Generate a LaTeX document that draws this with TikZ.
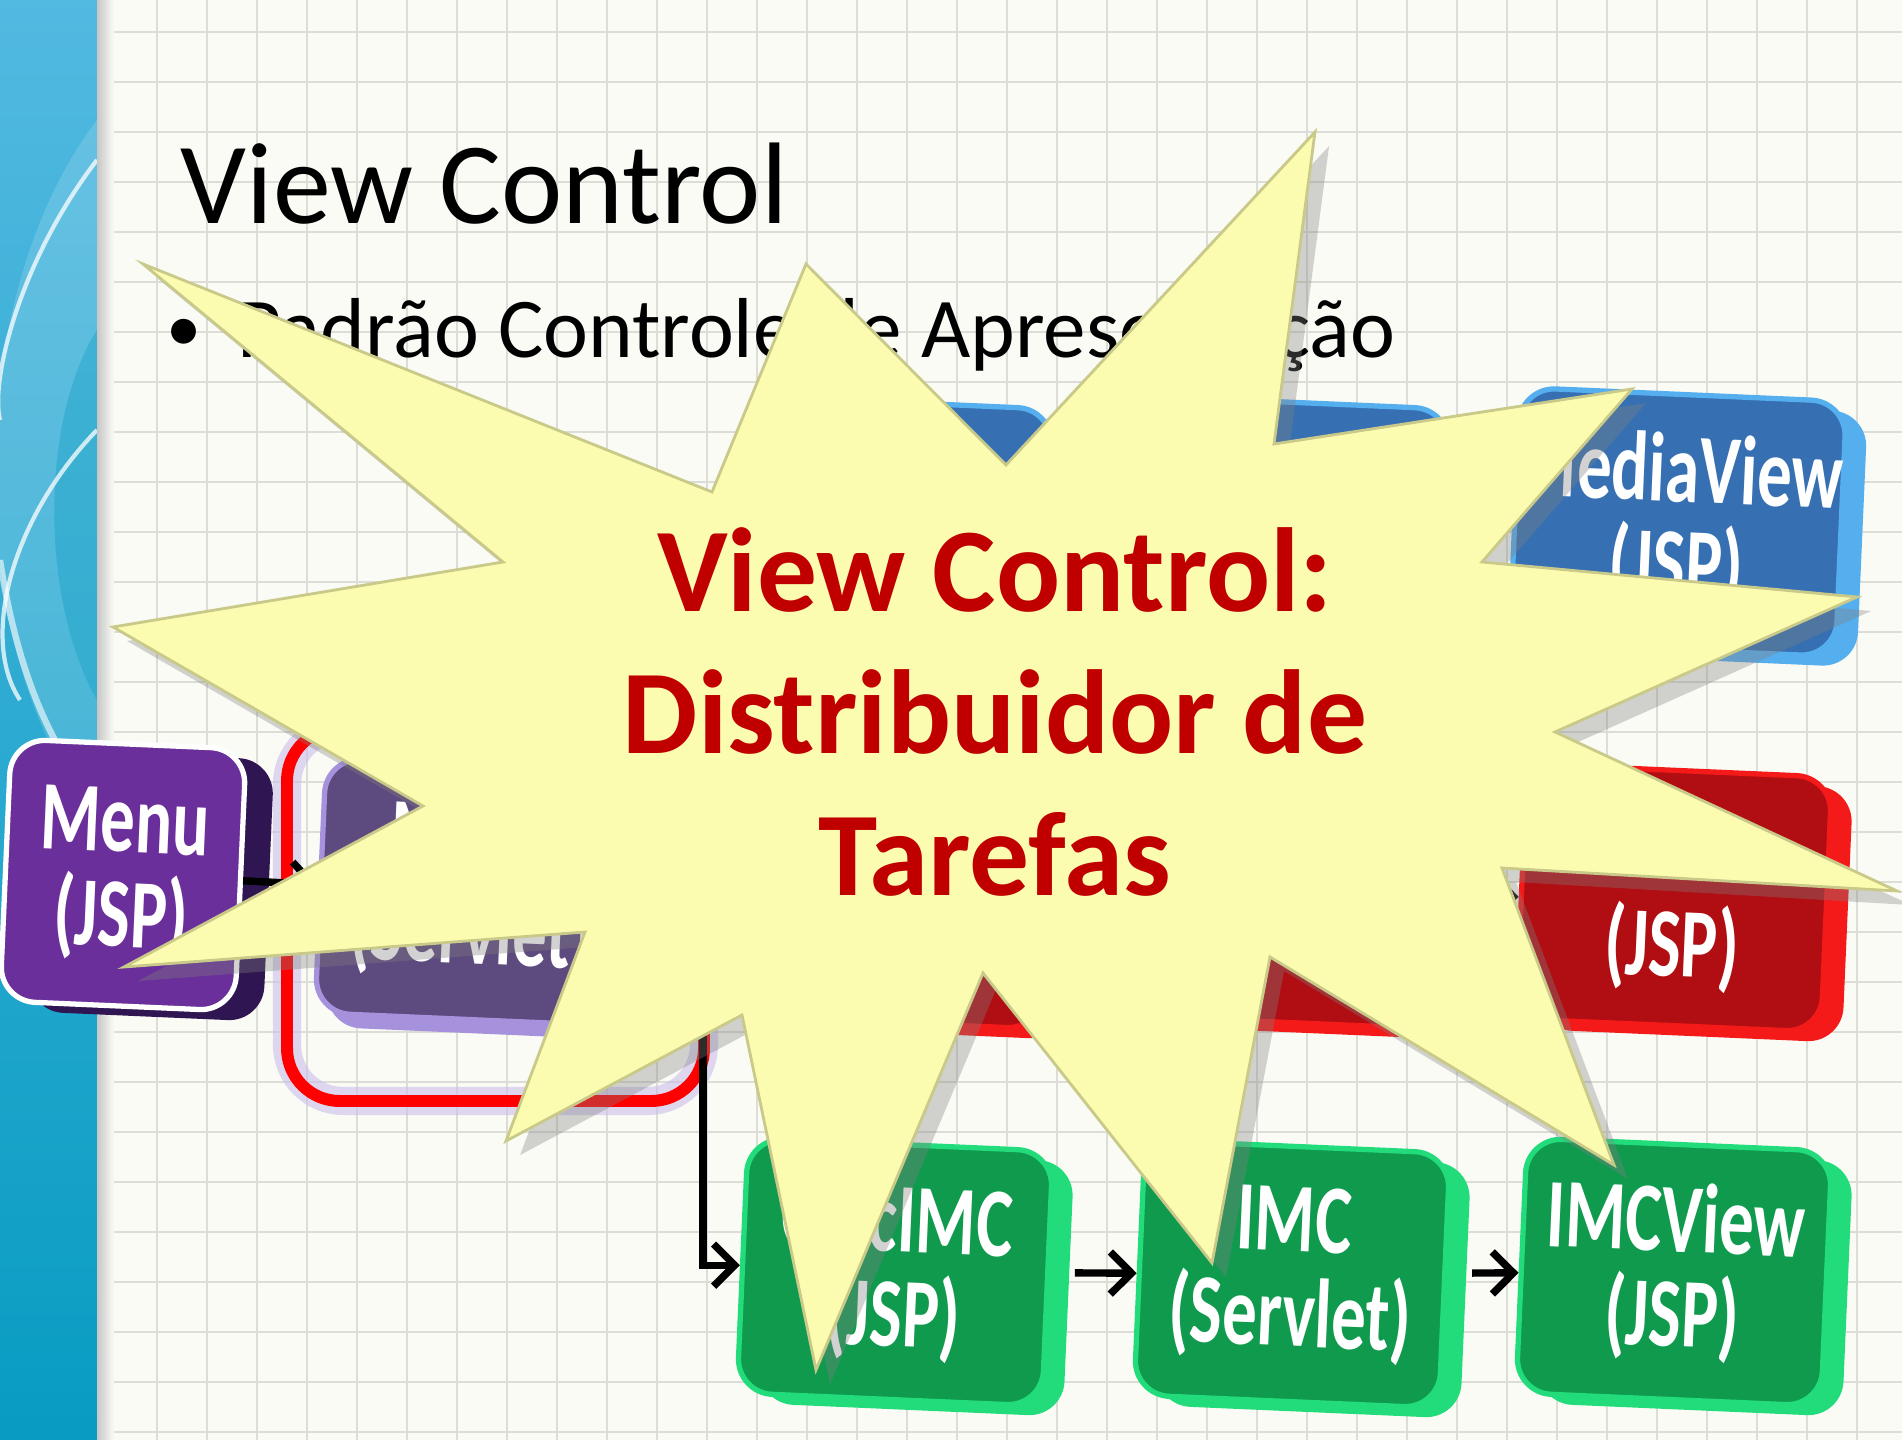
\documentclass[tikz,border=0pt]{standalone}
\usepackage{fontspec}
\setmainfont{Carlito}
\newfontfamily\boxfont[FakeStretch=0.7]{Carlito}
\usetikzlibrary{arrows.meta,shadows}
\definecolor{slidebg}{HTML}{FBFBF6}
\definecolor{gridgray}{HTML}{DDDDD8}
\definecolor{stripA}{HTML}{52B9E1}
\definecolor{stripB}{HTML}{089CC2}
\definecolor{burst}{HTML}{FCFCB0}
\definecolor{burstedge}{HTML}{C9C98A}
\definecolor{darkred}{HTML}{C00000}
\definecolor{bluefront}{HTML}{3670B3}
\definecolor{blueside}{HTML}{55AEEE}
\definecolor{redfront}{HTML}{B00E12}
\definecolor{redside}{HTML}{F41A1A}
\definecolor{greenfront}{HTML}{0F9A4E}
\definecolor{greenside}{HTML}{22DC7C}
\definecolor{menufront}{HTML}{6A2F9A}
\definecolor{menuside}{HTML}{2F1552}
\definecolor{servfront}{HTML}{5D4A7E}
\definecolor{servside}{HTML}{A692DC}
\tikzset{
  btn/.style={rounded corners=10pt, minimum width=3.05cm, minimum height=2.55cm,
    inner sep=0pt, line width=1.5pt, text=white, align=center, rotate=-2.5,
    font=\boxfont\bfseries\fontsize{28}{27}\selectfont},
  bluebtn/.style={btn, fill=bluefront, draw=blueside,
    general shadow={fill=blueside, shadow xshift=6pt, shadow yshift=-3pt}},
  redbtn/.style={btn, fill=redfront, draw=redside,
    general shadow={fill=redside, shadow xshift=6pt, shadow yshift=-3pt}},
  greenbtn/.style={btn, fill=greenfront, draw=greenside,
    general shadow={fill=greenside, shadow xshift=6pt, shadow yshift=-3pt}},
  menubtn/.style={btn, fill=menufront, draw=white,
    general shadow={fill=menuside, shadow xshift=8pt, shadow yshift=-3pt}},
  servbtn/.style={btn, fill=servfront, draw=servside,
    general shadow={fill=servside, shadow xshift=3pt, shadow yshift=-4pt}},
  flow/.style={line width=2.1pt, -{Straight Barb[length=6pt,width=12pt]}},
}
\begin{document}
\begin{tikzpicture}[x=0.01cm,y=-0.01cm]
  \useasboundingbox (0,0) rectangle (1902,1440);
  % slide background
  \fill[slidebg] (0,0) rectangle (1902,1440);
  \foreach \gx in {157,207,...,1907}
    \draw[gridgray, line width=0.4pt] (\gx,0) -- (\gx,1440);
  \foreach \gy in {32,82,...,1440}
    \draw[gridgray, line width=0.4pt] (97,\gy) -- (1902,\gy);
  \fill[top color=stripA, bottom color=stripB] (0,0) rectangle (97,1440);
  \begin{scope}
    \clip (0,0) rectangle (97,1440);
    \fill[white, opacity=.15] (97,120) .. controls (-40,300) and (-40,650) .. (97,820) -- cycle;
    \fill[stripB, opacity=.35] (97,330) .. controls (40,420) and (40,600) .. (97,700) -- cycle;
    \draw[white, opacity=.75, line width=1.2pt] (97,160) .. controls (20,260) and (-10,380) .. (0,420);
    \draw[white, opacity=.75, line width=1.2pt] (97,430) .. controls (10,520) and (-20,640) .. (20,700);
    \draw[white, opacity=.6, line width=1.8pt] (0,560) .. controls (20,690) and (60,760) .. (97,800);
  \end{scope}
  \fill[left color=black!22, right color=slidebg] (97,0) rectangle (114,1440);

  % title and bullet
  \node[anchor=base west, inner sep=0pt, font=\fontsize{33}{40}\selectfont] (title) at (180,224) {View Control};
  \node[anchor=base west, inner sep=0pt, font=\fontsize{20}{24}\selectfont] (dot) at (166,352) {\textbullet};
  \node[anchor=base west, inner sep=0pt, font=\fontsize{24.2}{29}\selectfont] (point) at (237,358) {Padrão Controle de Apresentação};

  % dispatcher frame
  \draw[servside!60, opacity=.6, line width=8pt, rounded corners=16pt] (287,728) rectangle (704,1101);
  \draw[red, line width=3.4pt, rounded corners=15pt] (287,728) rectangle (704,1101);

  % buttons
  \node[menubtn, minimum width=2.35cm, minimum height=2.62cm] (menu) at (123,875) {Menu\\(JSP)};
  \node[servbtn] (servlet) at (473,892) {Menu\\(Servlet)};
  \node[bluebtn] (b1) at (895,530) {};
  \node[bluebtn] (b2) at (1292,530) {};
  \node[bluebtn] (b3) at (1678,522) {MediaView\\(JSP)};
  \node[redbtn] (r1) at (895,895) {};
  \node[redbtn] (r2) at (1292,895) {};
  \node[redbtn] (r3) at (1674,898) {\strut\\(JSP)};
  \node[greenbtn] (g1) at (895,1272) {CalcIMC\\(JSP)};
  \node[greenbtn] (g2) at (1292,1274) {IMC\\(Servlet)};
  \node[greenbtn] (g3) at (1674,1272) {IMCView\\(JSP)};

  % connectors
  \coordinate (hub) at (703,892);
  \draw[flow] (menu) -- (servlet);
  \draw[line width=2.1pt] (servlet) -- (hub);
  \draw[flow] (hub) |- (b1.west);
  \draw[flow] (hub) |- (r1.west);
  \draw[flow] (hub) |- (g1.west);
  \foreach \p/\q in {b1/b2,b2/b3,r1/r2,r2/r3,g1/g2,g2/g3}
    \draw[flow, shorten <=7pt] (\p) -- (\q);

  % starburst callout
  \draw[fill=burst, draw=burstedge, line width=0.8pt,
        drop shadow={shadow xshift=4pt, shadow yshift=-4pt, opacity=.35}]
    (143,264) -- (712,492) -- (806,264) -- (1006,465) -- (1315,132) -- (1274,444)
    -- (1632,389) -- (1482,562) -- (1857,597) -- (1555,732) -- (1897,891) -- (1502,868)
    -- (1614,1165) -- (1270,957) -- (1212,1263) -- (983,973) -- (816,1370) -- (742,1015)
    -- (506,1141) -- (585,932) -- (124,967) -- (423,806) -- (113,627) -- (503,562) -- cycle;
  \node[text=darkred, align=center, inner sep=0pt,
        font=\bfseries\fontsize{34}{40.5}\selectfont] (msg) at (995,712)
    {View Control:\\Distribuidor de\\Tarefas};
\end{tikzpicture}
\end{document}
